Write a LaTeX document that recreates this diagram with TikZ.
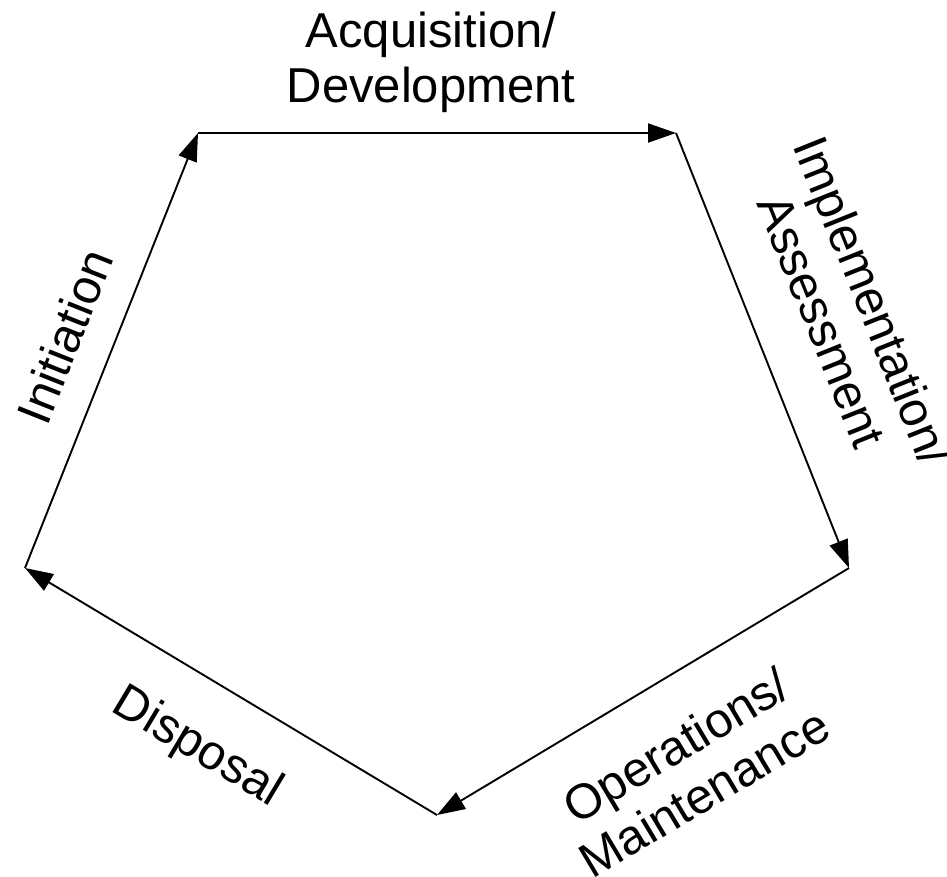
\documentclass[tikz,border=0pt]{standalone}
\usepackage{fontspec}
\setmainfont{Liberation Sans}
\usetikzlibrary{arrows.meta}
\begin{document}
\begin{tikzpicture}[x=1pt,y=-1pt,
  edge/.style={line width=1.9pt,-{Triangle[length=28pt,width=19pt]}},
  phase/.style={font=\fontsize{49}{55}\selectfont,align=center,inner sep=0pt}]
\useasboundingbox (0,0) rectangle (947,876);
% corners of the pentagon
\coordinate (TL) at (198,133);
\coordinate (TR) at (676,133);
\coordinate (R)  at (849,568);
\coordinate (B)  at (437,815);
\coordinate (L)  at (25,568);
% life-cycle arrows
\draw[edge] (L) -- (TL);
\draw[edge] (TL) -- (TR);
\draw[edge] (TR) -- (R);
\draw[edge] (R) -- (B);
\draw[edge] (B) -- (L);
% phase labels
\node[phase] (acq) at (431,62) {Acquisition/\\Development};
\node[phase,rotate=-68.2] (impl) at (848,311) {Implementation/\\Assessment};
\node[phase,rotate=30.9] (ops) at (690,769) {Operations/\\Maintenance};
\node[phase,rotate=-30.9] (disp) at (197,748) {Disposal};
\node[phase,rotate=68.3] (init) at (65,336) {Initiation};
\end{tikzpicture}
\end{document}
